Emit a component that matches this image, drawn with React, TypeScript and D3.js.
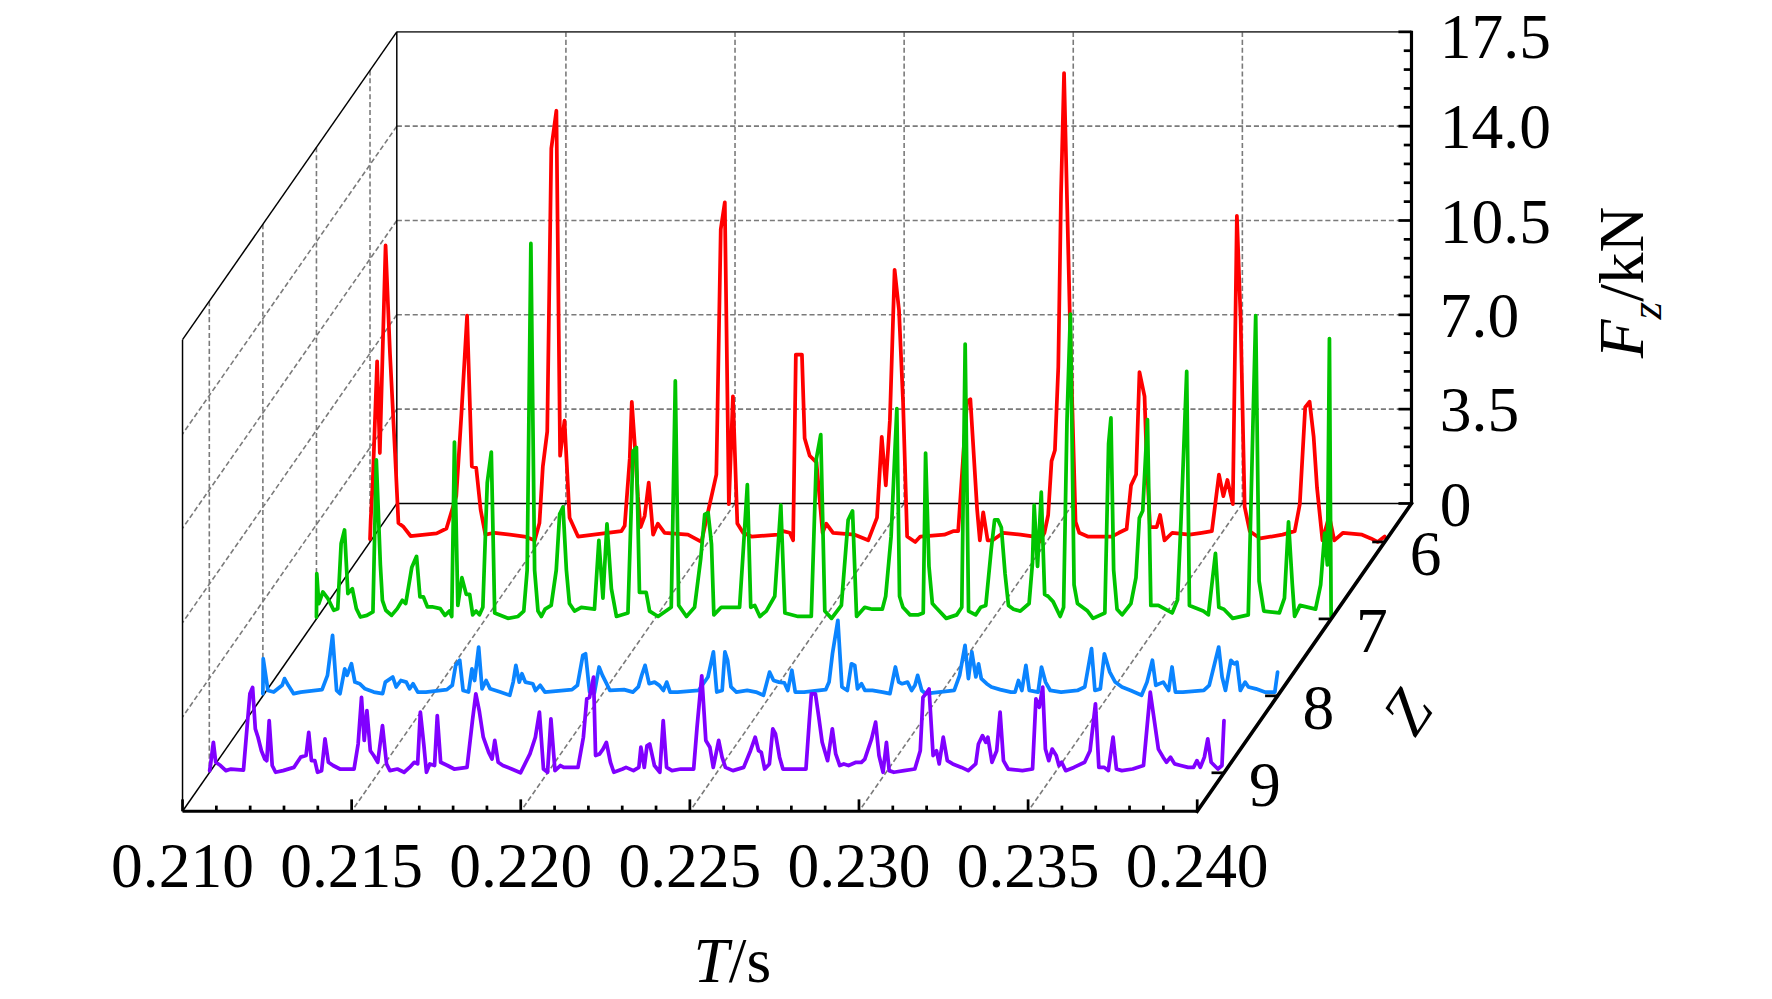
import * as d3 from 'd3';

// axis ticks
const timeTicks = [0.21, 0.215, 0.22, 0.225, 0.23, 0.235, 0.24];
const timeTickLabels = ['0.210', '0.215', '0.220', '0.225', '0.230', '0.235', '0.240'];
const forceTicks = [0, 3.5, 7, 10.5, 14, 17.5];
const forceTickLabels = ['0', '3.5', '7.0', '10.5', '14.0', '17.5'];
const toothTicks = [6, 7, 8, 9];
const toothLabels = ['6', '7', '8', '9'];

// Fz (kN) against T (s), one series per tooth number Z
const fzZ6: [number, number][] = [
  [0.21, 0.1], [0.21002, 0.8], [0.21008, 2.2], [0.21021, 6.7], [0.21029, 3.3], [0.21046, 11.0],
  [0.21059, 7.0], [0.21074, 3.3], [0.21084, 0.7], [0.21099, 0.56], [0.2112, 0.22], [0.21197, 0.32],
  [0.21226, 0.5], [0.21255, 1.7], [0.2127, 4.7], [0.21287, 8.4], [0.21301, 2.8], [0.21314, 2.75],
  [0.21327, 1.2], [0.21341, 0.27], [0.21368, 0.34], [0.21457, 0.2], [0.21487, 0.06], [0.21501, 0.7],
  [0.21511, 2.8], [0.21524, 4.1], [0.21536, 14.6], [0.21551, 16.0], [0.21562, 3.2], [0.21575, 4.5],
  [0.2159, 0.9], [0.21615, 0.2], [0.21743, 0.4], [0.21753, 0.6], [0.21768, 3.1], [0.21774, 5.2],
  [0.21784, 3.4], [0.21792, 1.7], [0.218, 0.55], [0.21812, 0.96], [0.21824, 2.2], [0.21837, 0.27],
  [0.21851, 0.68], [0.21871, 0.34], [0.2194, 0.27], [0.2198, 0.0], [0.21999, 1.1], [0.22024, 2.5],
  [0.22037, 11.6], [0.22049, 12.6], [0.22061, 1.4], [0.22073, 5.4], [0.22086, 0.68], [0.22103, 0.34],
  [0.22128, 0.2], [0.22206, 0.27], [0.22221, 0.4], [0.22241, 0.34], [0.22251, 0.06], [0.22259, 6.95],
  [0.22277, 6.95], [0.22285, 3.85], [0.223, 3.2], [0.2232, 2.95], [0.22338, 0.34], [0.22349, 0.68],
  [0.22369, 0.34], [0.22433, 0.27], [0.22473, 0.06], [0.22499, 0.9], [0.22513, 3.9], [0.22525, 2.1],
  [0.22537, 4.5], [0.22551, 10.1], [0.22564, 8.6], [0.22576, 5.2], [0.22588, 0.2], [0.22612, 0.0],
  [0.22627, 0.2], [0.22698, 0.27], [0.22724, 0.4], [0.22739, 0.4], [0.22755, 3.4], [0.22765, 5.2],
  [0.22775, 5.3], [0.22795, 1.2], [0.22803, 0.06], [0.22813, 1.1], [0.22826, 0.06], [0.22841, 0.06],
  [0.22872, 0.34], [0.22923, 0.27], [0.22964, 0.2], [0.22979, 0.0], [0.22994, 0.34], [0.23005, 1.0],
  [0.23015, 3.0], [0.23025, 3.4], [0.23035, 6.5], [0.23043, 12.9], [0.23052, 17.4], [0.23061, 12.6],
  [0.23071, 7.4], [0.23086, 0.75], [0.23097, 0.34], [0.23122, 0.2], [0.23193, 0.2], [0.23214, 0.34],
  [0.23237, 0.48], [0.2325, 2.1], [0.23265, 2.5], [0.23275, 6.3], [0.2329, 5.4], [0.23295, 3.5],
  [0.23306, 0.55], [0.23326, 0.55], [0.23336, 1.0], [0.23349, 0.06], [0.23372, 0.34], [0.23423, 0.27],
  [0.23459, 0.34], [0.23489, 0.4], [0.2351, 2.5], [0.23523, 1.7], [0.23535, 2.3], [0.23551, 1.4],
  [0.23563, 12.1], [0.23574, 8.3], [0.23586, 1.3], [0.23601, 0.4], [0.23632, 0.13], [0.23698, 0.27],
  [0.23734, 0.4], [0.23749, 1.4], [0.23765, 5.0], [0.23778, 5.2], [0.2379, 3.9], [0.238, 2.0],
  [0.23816, 0.06], [0.23836, 0.96], [0.23851, 0.06], [0.23877, 0.34], [0.23933, 0.27], [0.23959, 0.13],
  [0.23979, 0.0], [0.24, 0.2],
];

const fzZ7: [number, number][] = [
  [0.21, 0.07], [0.21001, 1.68], [0.21007, 0.57], [0.21019, 1.0], [0.21034, 0.75], [0.21051, 0.32],
  [0.21063, 0.38], [0.21073, 2.8], [0.21083, 3.3], [0.21093, 0.94], [0.21106, 1.12], [0.21118, 0.38],
  [0.2113, 0.07], [0.21149, 0.13], [0.21167, 0.26], [0.21177, 5.9], [0.21189, 2.0], [0.21195, 0.69],
  [0.21205, 0.32], [0.21222, 0.13], [0.21239, 0.38], [0.21254, 0.69], [0.21264, 0.57], [0.21282, 1.92],
  [0.21296, 2.32], [0.21306, 0.82], [0.21316, 0.82], [0.21328, 0.45], [0.21342, 0.45], [0.21366, 0.38],
  [0.2138, 0.13], [0.21393, 0.29], [0.214, 0.09], [0.21408, 6.56], [0.21418, 0.5], [0.2143, 1.53],
  [0.21443, 0.91], [0.21453, 0.91], [0.21462, 0.15], [0.21472, 0.29], [0.21482, 0.15], [0.21492, 0.43],
  [0.21505, 5.05], [0.21517, 6.19], [0.21527, 0.22], [0.21566, 0.02], [0.21596, 0.09], [0.21613, 0.29],
  [0.21623, 1.81], [0.21634, 13.93], [0.21645, 1.81], [0.21655, 0.29], [0.21665, 0.09], [0.21676, 0.36],
  [0.21694, 0.5], [0.21709, 1.81], [0.21719, 3.88], [0.21729, 4.15], [0.21739, 1.81], [0.21748, 0.57],
  [0.21763, 0.29], [0.21783, 0.43], [0.21822, 0.36], [0.21835, 2.91], [0.21847, 0.77], [0.21859, 3.53],
  [0.21872, 1.12], [0.21887, 0.09], [0.21921, 0.22], [0.21936, 6.22], [0.21946, 6.36], [0.21955, 0.98],
  [0.21975, 0.98], [0.21985, 0.29], [0.2201, 0.09], [0.22049, 0.43], [0.22061, 8.83], [0.22071, 0.5],
  [0.22094, 0.09], [0.22118, 0.43], [0.22136, 2.22], [0.22148, 3.88], [0.22158, 3.94], [0.22168, 2.77],
  [0.22175, 0.15], [0.22197, 0.43], [0.22251, 0.43], [0.22261, 2.36], [0.22274, 4.98], [0.22284, 0.43],
  [0.22296, 0.5], [0.22311, 0.09], [0.2233, 0.29], [0.22355, 0.84], [0.22373, 4.22], [0.22385, 0.22],
  [0.22424, 0.09], [0.22463, 0.09], [0.22478, 5.94], [0.22491, 6.84], [0.22503, 0.29], [0.22523, 0.02],
  [0.22552, 0.5], [0.22572, 3.67], [0.22585, 4.01], [0.22597, 0.09], [0.22621, 0.43], [0.22643, 0.36],
  [0.22673, 0.36], [0.22683, 0.84], [0.22699, 3.05], [0.22716, 7.8], [0.22724, 0.84], [0.22734, 0.43],
  [0.22755, 0.15], [0.2278, 0.15], [0.22794, 0.22], [0.22801, 6.15], [0.22811, 1.95], [0.22821, 0.57],
  [0.22831, 0.43], [0.22862, 0.02], [0.22893, 0.15], [0.22908, 0.43], [0.22918, 10.2], [0.22928, 0.29],
  [0.22949, 0.15], [0.22964, 0.43], [0.22979, 0.5], [0.22995, 2.57], [0.23005, 3.67], [0.23015, 3.67],
  [0.23025, 3.39], [0.23036, 1.67], [0.23046, 0.5], [0.23061, 0.36], [0.23081, 0.29], [0.23107, 0.57],
  [0.23117, 2.08], [0.23122, 4.22], [0.23132, 1.95], [0.23143, 4.7], [0.23153, 0.91], [0.23163, 0.84],
  [0.23178, 0.64], [0.23199, 0.09], [0.23209, 0.43], [0.23219, 7.32], [0.23229, 11.31], [0.2324, 1.26],
  [0.2325, 0.57], [0.2328, 0.29], [0.23296, 0.02], [0.23331, 0.22], [0.23342, 6.49], [0.23349, 7.46],
  [0.23357, 1.81], [0.23367, 0.36], [0.23382, 0.15], [0.23408, 0.57], [0.23423, 1.53], [0.23433, 3.74],
  [0.23443, 4.01], [0.23457, 7.39], [0.23467, 0.5], [0.23489, 0.5], [0.2353, 0.22], [0.23546, 0.71],
  [0.23556, 3.6], [0.23573, 9.18], [0.23581, 0.5], [0.23622, 0.29], [0.23637, 0.15], [0.23658, 2.43],
  [0.23668, 0.43], [0.23683, 0.36], [0.23709, 0.02], [0.23755, 0.15], [0.2377, 7.8], [0.23777, 11.25],
  [0.23787, 1.4], [0.23801, 0.29], [0.23847, 0.22], [0.23862, 0.77], [0.23874, 3.6], [0.23885, 1.33],
  [0.23892, 0.09], [0.23908, 0.5], [0.23954, 0.36], [0.23969, 1.26], [0.23981, 3.18], [0.23989, 2.0],
  [0.23995, 10.4], [0.24, 0.1],
];

const fzZ8: [number, number][] = [
  [0.21, 0.08], [0.21001, 1.38], [0.21015, 0.2], [0.21032, 0.14], [0.21057, 0.39], [0.21064, 0.64],
  [0.21075, 0.39], [0.21091, 0.08], [0.21112, 0.14], [0.21175, 0.23], [0.21191, 0.76], [0.21206, 2.24],
  [0.21218, 0.2], [0.21228, 0.08], [0.21242, 1.0], [0.21249, 0.76], [0.21262, 1.19], [0.21272, 0.51],
  [0.21286, 0.45], [0.21302, 0.26], [0.21328, 0.14], [0.21354, 0.08], [0.21362, 0.51], [0.21384, 0.7],
  [0.21394, 0.33], [0.21408, 0.57], [0.21424, 0.51], [0.21434, 0.26], [0.21444, 0.45], [0.21458, 0.14],
  [0.21482, 0.14], [0.21544, 0.23], [0.2156, 0.39], [0.2157, 1.13], [0.21582, 1.32], [0.21592, 0.2],
  [0.21608, 0.14], [0.21618, 1.0], [0.21626, 0.57], [0.21638, 1.81], [0.21648, 0.26], [0.2166, 0.57],
  [0.21672, 0.26], [0.21702, 0.14], [0.2173, 0.02], [0.2174, 0.51], [0.21748, 1.13], [0.21758, 0.51],
  [0.21766, 0.82], [0.21776, 0.51], [0.21798, 0.45], [0.21806, 0.2], [0.2182, 0.39], [0.21834, 0.14],
  [0.21914, 0.23], [0.2193, 0.39], [0.21946, 1.5], [0.21954, 1.56], [0.21966, 0.14], [0.2198, 0.1],
  [0.21994, 1.07], [0.22004, 0.76], [0.22014, 0.51], [0.22026, 0.2], [0.22068, 0.23], [0.22094, 0.14],
  [0.2211, 0.33], [0.2212, 0.76], [0.2213, 1.13], [0.22142, 0.45], [0.22158, 0.51], [0.22172, 0.39],
  [0.22184, 0.2], [0.22194, 0.51], [0.22204, 0.14], [0.22226, 0.14], [0.22288, 0.2], [0.22316, 0.7],
  [0.22332, 1.63], [0.22342, 0.14], [0.22358, 0.2], [0.22366, 1.63], [0.22374, 1.32], [0.22384, 0.33],
  [0.224, 0.14], [0.22432, 0.2], [0.22458, 0.14], [0.2248, 0.02], [0.22498, 0.88], [0.2251, 0.57],
  [0.22526, 0.51], [0.22542, 0.48], [0.22552, 0.2], [0.22564, 0.95], [0.22574, 0.14], [0.226, 0.14],
  [0.22664, 0.23], [0.22674, 0.51], [0.22684, 1.56], [0.227, 2.8], [0.22712, 0.33], [0.22728, 0.2],
  [0.2274, 1.19], [0.2275, 1.13], [0.22758, 0.26], [0.2277, 0.45], [0.2278, 0.2], [0.22802, 0.2],
  [0.22832, 0.14], [0.22854, 0.08], [0.2287, 1.07], [0.2288, 0.51], [0.2289, 0.45], [0.22906, 0.51],
  [0.22918, 0.2], [0.22928, 0.39], [0.22936, 0.76], [0.22948, 0.2], [0.2296, 0.08], [0.23044, 0.2],
  [0.2306, 0.76], [0.23076, 1.87], [0.23086, 0.64], [0.23096, 1.63], [0.23108, 0.7], [0.23116, 1.19],
  [0.23124, 0.64], [0.2314, 0.45], [0.23154, 0.33], [0.2318, 0.23], [0.23212, 0.14], [0.23224, 0.14],
  [0.23234, 0.57], [0.23244, 0.2], [0.23256, 1.13], [0.23266, 0.2], [0.23292, 0.14], [0.23302, 1.07],
  [0.23314, 0.51], [0.23328, 0.2], [0.2336, 0.14], [0.23408, 0.2], [0.2343, 0.33], [0.2345, 1.75],
  [0.2346, 0.2], [0.23476, 0.26], [0.23488, 1.56], [0.23504, 0.88], [0.2352, 0.51], [0.2354, 0.33],
  [0.23566, 0.2], [0.23598, 0.02], [0.23614, 0.51], [0.2363, 1.32], [0.2364, 0.39], [0.23662, 0.51],
  [0.23678, 0.2], [0.23688, 1.07], [0.23698, 0.14], [0.2372, 0.14], [0.23782, 0.2], [0.23798, 0.39],
  [0.23826, 1.81], [0.23836, 0.7], [0.23846, 0.2], [0.23862, 1.32], [0.23872, 1.19], [0.2388, 1.25],
  [0.2389, 0.2], [0.23904, 0.51], [0.23914, 0.33], [0.23936, 0.26], [0.23962, 0.14], [0.23992, 0.14],
  [0.24, 0.88],
];

const fzZ9: [number, number][] = [
  [0.21001, 0.08], [0.21004, 0.33], [0.21012, 1.13], [0.21019, 0.39], [0.21033, 0.27], [0.21049, 0.08],
  [0.21064, 0.14], [0.21101, 0.1], [0.21112, 1.75], [0.2112, 2.93], [0.21128, 3.17], [0.21136, 1.63],
  [0.21144, 1.32], [0.21154, 0.82], [0.21164, 0.51], [0.2117, 0.45], [0.21177, 1.94], [0.21186, 0.27],
  [0.21196, 0.02], [0.21218, 0.08], [0.2125, 0.2], [0.2127, 0.58], [0.21286, 0.64], [0.21294, 1.5],
  [0.21302, 0.45], [0.21312, 0.45], [0.2132, 0.02], [0.21332, 0.08], [0.21342, 1.26], [0.21352, 0.39],
  [0.21366, 0.27], [0.21386, 0.14], [0.21428, 0.14], [0.2144, 1.07], [0.2145, 2.8], [0.21458, 1.2],
  [0.21466, 2.31], [0.21476, 0.82], [0.21486, 0.64], [0.21498, 0.39], [0.21512, 1.75], [0.21524, 0.33],
  [0.21534, 0.08], [0.21556, 0.14], [0.21576, 0.02], [0.21592, 0.2], [0.21606, 0.39], [0.21616, 0.33],
  [0.21624, 2.25], [0.21634, 1.07], [0.21642, 0.02], [0.21652, 0.33], [0.21666, 0.27], [0.21674, 2.12],
  [0.21684, 0.39], [0.21704, 0.27], [0.21724, 0.14], [0.21762, 0.2], [0.21778, 1.94], [0.21788, 2.93],
  [0.21798, 2.31], [0.2181, 1.32], [0.21826, 0.76], [0.21836, 0.51], [0.21844, 1.2], [0.21854, 0.39],
  [0.21868, 0.27], [0.21894, 0.14], [0.2192, 0.0], [0.21948, 0.7], [0.21964, 1.32], [0.21976, 2.25],
  [0.21988, 0.14], [0.22, 0.02], [0.2201, 2.0], [0.22022, 0.08], [0.22038, 0.27], [0.22048, 0.2],
  [0.2209, 0.2], [0.22106, 1.32], [0.22116, 2.74], [0.22124, 2.8], [0.22136, 3.55], [0.22142, 0.64],
  [0.22154, 0.7], [0.22164, 0.88], [0.22174, 1.13], [0.22186, 0.39], [0.22196, 0.02], [0.22222, 0.14],
  [0.22232, 0.2], [0.22254, 0.08], [0.2227, 0.2], [0.22276, 0.95], [0.22286, 0.2], [0.22294, 1.0],
  [0.22302, 1.07], [0.22316, 0.27], [0.22332, 0.02], [0.22342, 1.94], [0.22352, 0.2], [0.22368, 0.08],
  [0.22394, 0.14], [0.22432, 0.14], [0.22442, 1.69], [0.22456, 3.6], [0.22468, 1.2], [0.2248, 0.95],
  [0.2249, 0.2], [0.22506, 1.2], [0.22516, 0.58], [0.22526, 0.2], [0.22548, 0.08], [0.2258, 0.2],
  [0.226, 0.82], [0.22614, 1.32], [0.22624, 0.82], [0.22632, 0.76], [0.22642, 0.14], [0.22656, 0.33],
  [0.22666, 1.63], [0.22674, 1.44], [0.22686, 0.58], [0.22696, 0.14], [0.22728, 0.14], [0.22764, 0.14],
  [0.22774, 1.94], [0.2278, 2.93], [0.22792, 2.93], [0.22802, 2.06], [0.22812, 1.13], [0.22828, 0.45],
  [0.22842, 1.63], [0.22852, 0.7], [0.22864, 0.27], [0.22876, 0.33], [0.2289, 0.27], [0.22912, 0.39],
  [0.22928, 0.39], [0.22938, 0.51], [0.22958, 1.26], [0.2297, 1.88], [0.2298, 0.64], [0.22992, 0.02],
  [0.23002, 1.13], [0.2301, 0.08], [0.23024, 0.02], [0.23054, 0.08], [0.23086, 0.14], [0.23102, 0.82],
  [0.2311, 2.8], [0.23118, 2.93], [0.23128, 3.11], [0.2314, 0.64], [0.2315, 0.82], [0.23158, 0.33],
  [0.2317, 1.32], [0.23182, 0.45], [0.23198, 0.33], [0.23224, 0.2], [0.23244, 0.08], [0.23266, 0.33],
  [0.23274, 1.07], [0.23286, 1.38], [0.23296, 1.13], [0.23302, 1.32], [0.23314, 0.39], [0.23328, 0.82],
  [0.23338, 2.25], [0.23348, 0.45], [0.23362, 0.14], [0.23404, 0.08], [0.23434, 0.14], [0.23444, 2.74],
  [0.23454, 2.43], [0.23464, 3.18], [0.23472, 0.88], [0.23482, 0.45], [0.23492, 0.88], [0.23504, 0.64],
  [0.23512, 0.27], [0.2352, 0.39], [0.23532, 0.08], [0.23556, 0.2], [0.23588, 0.39], [0.23604, 0.82],
  [0.2362, 2.56], [0.2363, 0.2], [0.23646, 0.2], [0.23658, 0.08], [0.23672, 1.32], [0.23682, 0.14],
  [0.23698, 0.08], [0.2373, 0.14], [0.23762, 0.27], [0.23782, 2.99], [0.23794, 1.94], [0.23806, 0.88],
  [0.2382, 0.58], [0.2383, 0.39], [0.23842, 0.58], [0.23854, 0.33], [0.23872, 0.27], [0.23894, 0.2],
  [0.2391, 0.2], [0.2392, 0.45], [0.2393, 0.2], [0.23942, 0.58], [0.23952, 1.26], [0.23962, 0.39],
  [0.23982, 0.14], [0.23994, 0.27], [0.24, 1.94],
];

const seriesList = [
  { z: 6, color: '#ff0000', data: fzZ6 },
  { z: 7, color: '#00c400', data: fzZ7 },
  { z: 8, color: '#0a84ff', data: fzZ8 },
  { z: 9, color: '#8000ff', data: fzZ9 },
];

const W = 1563;
const H = 881;
const FONT = '"Liberation Serif", "Times New Roman", serif';
const FS = 56;

// back wall scales, depth pushes points down-left
const xScale = d3.scaleLinear().domain([0.21, 0.24]).range([350, 1245]);
const yScale = d3.scaleLinear().domain([0, 17.5]).range([444, 28]);
const depthScale = d3.scaleLinear().domain([5.5, 9.5]).range([0, 1]);
const DX = -189;
const DY = 271.5;

const px = (t: number, z: number) => xScale(t) + depthScale(z) * DX;
const py = (f: number, z: number) => yScale(f) + depthScale(z) * DY;

const gridStyle = { stroke: '#7a7a7a', strokeWidth: 1.4, strokeDasharray: '4.5 2.5', fill: 'none' };

export default function App() {
  const zBack = 5.5;
  const zFront = 9.5;
  const tMin = 0.21;
  const tMax = 0.24;
  const fMax = 17.5;

  const innerT = timeTicks.slice(1, -1);
  const innerF = forceTicks.slice(1, -1);
  const minorT = d3.range(0, 31).map((k) => 0.21 + k * 0.001);
  const minorF = d3.range(0, 26).map((k) => k * 0.7);

  const line = (z: number) =>
    d3
      .line<[number, number]>()
      .x((d) => px(d[0], z))
      .y((d) => py(d[1], z));

  return (
    <svg
      width={1772}
      height={999}
      viewBox={`0 0 ${W} ${H}`}
      style={{ position: 'absolute', left: 0, top: 0, background: '#fff' }}
      fontFamily={FONT}
    >
      {/* back wall grid */}
      {innerF.map((f) => (
        <line key={`bh${f}`} x1={px(tMin, zBack)} x2={px(tMax, zBack)} y1={py(f, zBack)} y2={py(f, zBack)} style={gridStyle} />
      ))}
      {innerT.map((t) => (
        <line key={`bv${t}`} x1={px(t, zBack)} x2={px(t, zBack)} y1={py(fMax, zBack)} y2={py(0, zBack)} style={gridStyle} />
      ))}
      {/* left wall grid */}
      {innerF.map((f) => (
        <line key={`lh${f}`} x1={px(tMin, zBack)} x2={px(tMin, zFront)} y1={py(f, zBack)} y2={py(f, zFront)} style={gridStyle} />
      ))}
      {toothTicks.map((z) => (
        <line key={`lv${z}`} x1={px(tMin, z)} x2={px(tMin, z)} y1={py(fMax, z)} y2={py(0, z)} style={gridStyle} />
      ))}
      {/* floor grid */}
      {innerT.map((t) => (
        <line key={`fl${t}`} x1={px(t, zBack)} x2={px(t, zFront)} y1={py(0, zBack)} y2={py(0, zFront)} style={gridStyle} />
      ))}

      {/* thin box edges */}
      <line x1={px(tMin, zBack)} x2={px(tMax, zBack)} y1={py(fMax, zBack)} y2={py(fMax, zBack)} stroke="#444" strokeWidth={1.4} />
      <line x1={px(tMin, zBack)} x2={px(tMin, zFront)} y1={py(fMax, zBack)} y2={py(fMax, zFront)} stroke="#000" strokeWidth={1.3} />
      <line x1={px(tMin, zBack)} x2={px(tMin, zBack)} y1={py(fMax, zBack)} y2={py(0, zBack)} stroke="#000" strokeWidth={1.3} />
      <line x1={px(tMin, zFront)} x2={px(tMin, zFront)} y1={py(fMax, zFront)} y2={py(0, zFront)} stroke="#000" strokeWidth={1.3} />
      <line x1={px(tMin, zBack)} x2={px(tMax, zBack)} y1={py(0, zBack)} y2={py(0, zBack)} stroke="#000" strokeWidth={1.3} />
      <line x1={px(tMin, zBack)} x2={px(tMin, zFront)} y1={py(0, zBack)} y2={py(0, zFront)} stroke="#000" strokeWidth={1.3} />

      {/* series, back to front */}
      {seriesList.map((s) => (
        <path
          key={s.z}
          d={line(s.z)(s.data) || ''}
          fill="none"
          stroke={s.color}
          strokeWidth={3.3}
          strokeLinejoin="round"
          strokeLinecap="round"
        />
      ))}

      {/* T axis on the front edge */}
      <line x1={px(tMin, zFront)} x2={px(tMax, zFront)} y1={py(0, zFront)} y2={py(0, zFront)} stroke="#000" strokeWidth={2.8} />
      {minorT.map((t, k) => (
        <line
          key={`tt${k}`}
          x1={px(t, zFront)}
          x2={px(t, zFront)}
          y1={py(0, zFront)}
          y2={py(0, zFront) - (k % 5 === 0 ? 10.5 : 5)}
          stroke="#000"
          strokeWidth={2.4}
        />
      ))}
      {timeTicks.map((t, k) => (
        <text key={`tl${k}`} x={px(t, zFront)} y={py(0, zFront) + 67} fontSize={FS} textAnchor="middle" fill="#000">
          {timeTickLabels[k]}
        </text>
      ))}
      <text x={646} y={866} fontSize={FS} textAnchor="middle" fill="#000">
        <tspan fontStyle="italic">T</tspan>/s
      </text>

      {/* Fz axis on the right of the back wall */}
      <line x1={px(tMax, zBack)} x2={px(tMax, zBack)} y1={py(fMax, zBack) - 1} y2={py(0, zBack) + 1} stroke="#000" strokeWidth={2.8} />
      {minorF.map((f, k) => (
        <line
          key={`ft${k}`}
          x1={px(tMax, zBack)}
          x2={px(tMax, zBack) - (k % 5 === 0 ? 11.5 : 6.8)}
          y1={py(f, zBack)}
          y2={py(f, zBack)}
          stroke="#000"
          strokeWidth={2.4}
        />
      ))}
      {forceTicks.map((f, k) => (
        <text
          key={`fl${k}`}
          x={px(tMax, zBack) + 25}
          y={Math.max(py(f, zBack) + 19.5, 51)}
          fontSize={FS}
          fill="#000"
        >
          {forceTickLabels[k]}
        </text>
      ))}
      <text transform="translate(1449,249) rotate(-90)" fontSize={FS} textAnchor="middle" fill="#000">
        <tspan fontStyle="italic">F</tspan>
        <tspan fontStyle="italic" fontSize={40} dy={16}>z</tspan>
        <tspan dy={-16}>/kN</tspan>
      </text>

      {/* Z depth axis */}
      <line x1={px(tMax, zBack)} x2={px(tMax, zFront)} y1={py(0, zBack)} y2={py(0, zFront)} stroke="#000" strokeWidth={3.2} strokeLinecap="square" />
      {toothTicks.map((z, k) => (
        <g key={`zt${z}`}>
          <line x1={px(tMax, z)} x2={px(tMax, z) - 11} y1={py(0, z)} y2={py(0, z)} stroke="#000" strokeWidth={2.4} />
          <text x={px(tMax, z) + 36} y={py(0, z) + 29} fontSize={FS} textAnchor="middle" fill="#000">
            {toothLabels[k]}
          </text>
        </g>
      ))}
      <text
        transform="translate(1241,628) rotate(-56)"
        fontSize={FS}
        fontStyle="italic"
        textAnchor="middle"
        dominantBaseline="central"
        fill="#000"
      >
        Z
      </text>
    </svg>
  );
}
